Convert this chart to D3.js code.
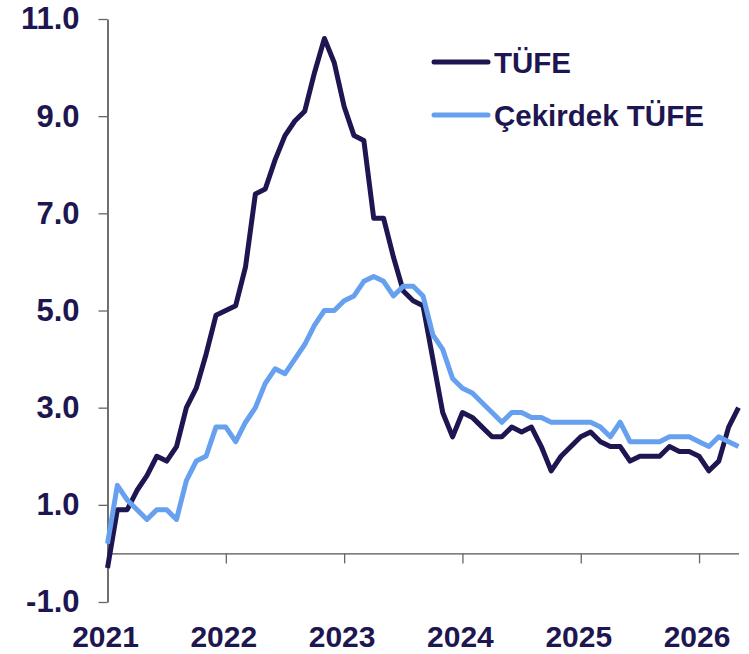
<!DOCTYPE html>
<meta charset="utf-8">
<html>
  <head>
    <title>TÜFE</title>
    <script src="https://d3js.org/d3.v7.min.js"></script>
    <style>
      body { margin: 0; background: #fff; }
      text { font-family: "Liberation Sans", Arial, sans-serif; font-weight: bold; }
    </style>
  </head>
  <body>
    <div id="chart"></div>
    <script type="text/javascript">
        /* data: monthly values, Jan 2021 .. May 2026 */
        var tufe = [-0.3, 0.9, 0.9, 1.3, 1.6, 2.0, 1.9, 2.2, 3.0, 3.4, 4.1, 4.9,
                    5.0, 5.1, 5.9, 7.4, 7.5, 8.1, 8.6, 8.9, 9.1, 9.9, 10.6, 10.1,
                    9.2, 8.6, 8.5, 6.9, 6.9, 6.1, 5.4, 5.2, 5.1, 4.0, 2.9, 2.4,
                    2.9, 2.8, 2.6, 2.4, 2.4, 2.6, 2.5, 2.6, 2.2, 1.7, 2.0, 2.2,
                    2.4, 2.5, 2.3, 2.2, 2.2, 1.9, 2.0, 2.0, 2.0, 2.2, 2.1, 2.1,
                    2.0, 1.7, 1.9, 2.6, 3.0];
        var cekirdek = [0.2, 1.4, 1.1, 0.9, 0.7, 0.9, 0.9, 0.7, 1.5, 1.9, 2.0, 2.6,
                    2.6, 2.3, 2.7, 3.0, 3.5, 3.8, 3.7, 4.0, 4.3, 4.7, 5.0, 5.0,
                    5.2, 5.3, 5.6, 5.7, 5.6, 5.3, 5.5, 5.5, 5.3, 4.5, 4.2, 3.6,
                    3.4, 3.3, 3.1, 2.9, 2.7, 2.9, 2.9, 2.8, 2.8, 2.7, 2.7, 2.7,
                    2.7, 2.7, 2.6, 2.4, 2.7, 2.3, 2.3, 2.3, 2.3, 2.4, 2.4, 2.4,
                    2.3, 2.2, 2.4, 2.3, 2.2];
        var years = ["2021", "2022", "2023", "2024", "2025", "2026"];
        var yTicks = [-1, 1, 3, 5, 7, 9, 11];
        var seriesNames = ["TÜFE", "Çekirdek TÜFE"];
        var colors = ["#1d1650", "#67a0ee"];

        /* layout */
        var total_width = 749, total_height = 654;
        var plot = {left: 107.5, right: 738.5, top: 19, bottom: 602};

        var svg = d3.select("#chart").append("svg")
                .attr("width", total_width)
                .attr("height", total_height);

        var x = d3.scaleLinear().domain([0, tufe.length - 1]).range([plot.left, plot.right]);
        var y = d3.scaleLinear().domain([-1, 11]).range([plot.bottom, plot.top]);

        /* y axis */
        var y_axis = d3.axisLeft(y)
                .tickValues(yTicks)
                .tickSize(9)
                .tickSizeOuter(0)
                .tickPadding(19)
                .tickFormat(function(d){ return d.toFixed(1); });
        var gy = svg.append("g")
                .attr("transform", "translate(" + plot.left + ",0)")
                .call(y_axis);
        gy.select(".domain").attr("stroke", "#222").attr("stroke-width", 1.3);
        gy.selectAll(".tick line").attr("stroke", "#666").attr("stroke-width", 1.3);
        gy.selectAll(".tick text")
                .attr("fill", colors[0])
                .attr("font-size", 31)
                .attr("font-family", "Liberation Sans, Arial, sans-serif")
                .attr("font-weight", "bold");

        /* x axis at zero */
        var x_axis = d3.axisBottom(x)
                .tickValues(d3.range(1, years.length).map(function(i){ return i * 12; }))
                .tickSize(10)
                .tickSizeOuter(0)
                .tickFormat("");
        var gx = svg.append("g")
                .attr("transform", "translate(0," + y(0) + ")")
                .call(x_axis);
        gx.select(".domain").attr("stroke", "#555").attr("stroke-width", 1.3);
        gx.selectAll(".tick line").attr("stroke", "#666").attr("stroke-width", 1.3);

        svg.append("g").selectAll("text")
                .data(years)
                .enter().append("text")
                .attr("x", function(d, i){ return x(i * 12) - 2; })
                .attr("y", 647)
                .attr("text-anchor", "middle")
                .attr("font-size", 30)
                .attr("fill", colors[0])
                .text(function(d){ return d; });

        /* lines */
        var line = d3.line()
                .x(function(d, i){ return x(i); })
                .y(function(d){ return y(d); });

        [tufe, cekirdek].forEach(function(s, k){
            svg.append("path")
                .datum(s)
                .attr("d", line)
                .attr("fill", "none")
                .attr("stroke", colors[k])
                .attr("stroke-width", 5)
                .attr("stroke-linejoin", "round");
        });

        /* legend */
        var legend = svg.append("g").selectAll("g")
                .data(seriesNames)
                .enter().append("g")
                .attr("transform", function(d, i){ return "translate(434," + (62 + i * 53) + ")"; });
        legend.append("line")
                .attr("x1", 0).attr("x2", 54)
                .attr("stroke", function(d, i){ return colors[i]; })
                .attr("stroke-width", 5)
                .attr("stroke-linecap", "round");
        legend.append("text")
                .attr("x", 60)
                .attr("y", 10.5)
                .attr("font-size", 29.5)
                .attr("fill", colors[0])
                .text(function(d){ return d; });
    </script>
  </body>
</html>
